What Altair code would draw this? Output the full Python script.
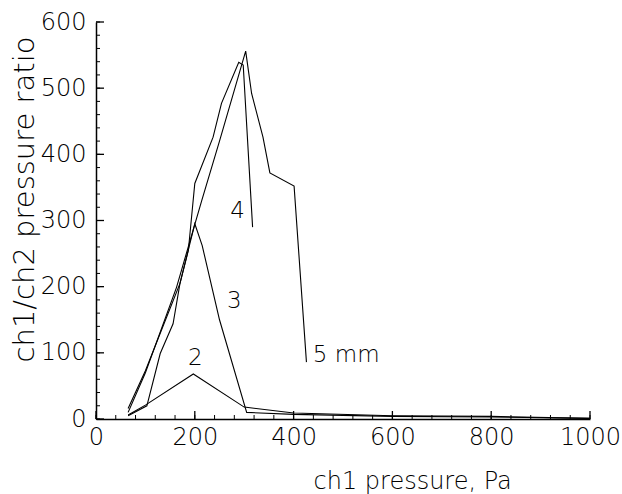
import altair as alt
import pandas as pd

# ---- data ----
c2_x = [65, 100, 197, 300, 400, 600, 800, 1000]
c2_y = [6, 21, 68, 18, 9, 5, 4, 1]

c3_x = [65, 100, 170, 200, 215, 250, 305, 400, 600, 800, 1000]
c3_y = [16, 73, 205, 295, 262, 150, 10, 7, 4, 3, 1]

c4_x = [65, 103, 130, 156, 170, 187, 200, 237, 254, 289, 298, 317]
c4_y = [5, 20, 99, 144, 205, 255, 356, 426, 477, 539, 535, 290]

c5_x = [65, 100, 163, 214, 250, 303, 315, 338, 352, 401, 426]
c5_y = [10, 70, 199, 330, 420, 556, 492, 426, 372, 352, 86]

label_text = ["2", "3", "4", "5 mm"]
label_x = [186, 265, 272, 439]
label_y = [92, 178, 314, 96]

x_major = [0, 200, 400, 600, 800, 1000]
x_minor = list(range(0, 1001, 40))
y_major = [0, 100, 200, 300, 400, 500, 600]
y_minor = list(range(0, 601, 20))

rows = []
for name, xs, ys in [("2", c2_x, c2_y), ("3", c3_x, c3_y), ("4", c4_x, c4_y), ("5", c5_x, c5_y)]:
    for i, (a, b) in enumerate(zip(xs, ys)):
        rows.append({"curve": name, "i": i, "p": a, "r": b})
df = pd.DataFrame(rows)
labels = pd.DataFrame({"t": label_text, "p": label_x, "r": label_y})

W, H = 494, 397
FONT = "DejaVu Sans"
FW = 200

xs = alt.Scale(domain=[0, 1000], nice=False, zero=False)
ys = alt.Scale(domain=[0, 600], nice=False, zero=False)

x_axis = alt.Axis(values=x_major, format="d", ticks=False, grid=False, domainColor="black",
                  domainWidth=1.5, labelFontSize=24, labelFont=FONT, labelFontWeight=FW,
                  labelColor="black",
                  labelPadding=6, labelFlush=False, labelOverlap=False,
                  title="ch1 pressure, Pa", titleFont=FONT, titleFontSize=24,
                  titleFontWeight=FW, titleColor="black",
                  titleX=217, titleY=69, titleAlign="left", titleBaseline="alphabetic")
y_axis = alt.Axis(values=y_major, format="d", ticks=False, grid=False, domainColor="black",
                  domainWidth=1.5, labelFontSize=24, labelFont=FONT, labelFontWeight=FW,
                  labelColor="black",
                  labelPadding=10, labelFlush=False, labelOverlap=False,
                  title="ch1/ch2 pressure ratio", titleFont=FONT, titleFontSize=29,
                  titleFontWeight=FW, titleColor="black",
                  titleX=-63, titleY=177, titleAlign="center", titleBaseline="alphabetic",
                  titleAngle=270)

lines = alt.Chart(df).mark_line(color="black", strokeWidth=1.1).encode(
    x=alt.X("p:Q", scale=xs, axis=x_axis),
    y=alt.Y("r:Q", scale=ys, axis=y_axis),
    detail="curve:N",
    order="i:O",
)

text = alt.Chart(labels).mark_text(font=FONT, fontSize=23, fontWeight=FW, color="black",
                                   align="left", baseline="middle").encode(
    x=alt.X("p:Q", scale=xs), y=alt.Y("r:Q", scale=ys), text="t:N")

xmin = alt.Chart(pd.DataFrame({"v": x_minor})).mark_rule(color="black", strokeWidth=1).encode(
    x=alt.X("v:Q", scale=xs), y=alt.value(H), y2=alt.value(H - 4))
xmaj = alt.Chart(pd.DataFrame({"v": x_major})).mark_rule(color="black", strokeWidth=1.3).encode(
    x=alt.X("v:Q", scale=xs), y=alt.value(H), y2=alt.value(H - 8))
ymin = alt.Chart(pd.DataFrame({"v": y_minor})).mark_rule(color="black", strokeWidth=1).encode(
    y=alt.Y("v:Q", scale=ys), x=alt.value(0), x2=alt.value(4))
ymaj = alt.Chart(pd.DataFrame({"v": y_major})).mark_rule(color="black", strokeWidth=1.3).encode(
    y=alt.Y("v:Q", scale=ys), x=alt.value(0), x2=alt.value(8))

chart = alt.layer(xmin, xmaj, ymin, ymaj, lines, text).properties(
    width=W, height=H,
    padding={"left": 96, "top": 22, "right": 32, "bottom": 75},
    autosize="none",
    background="white",
).configure_view(stroke=None)

chart.save("out.html", embed_options={"renderer": "svg", "actions": False})
